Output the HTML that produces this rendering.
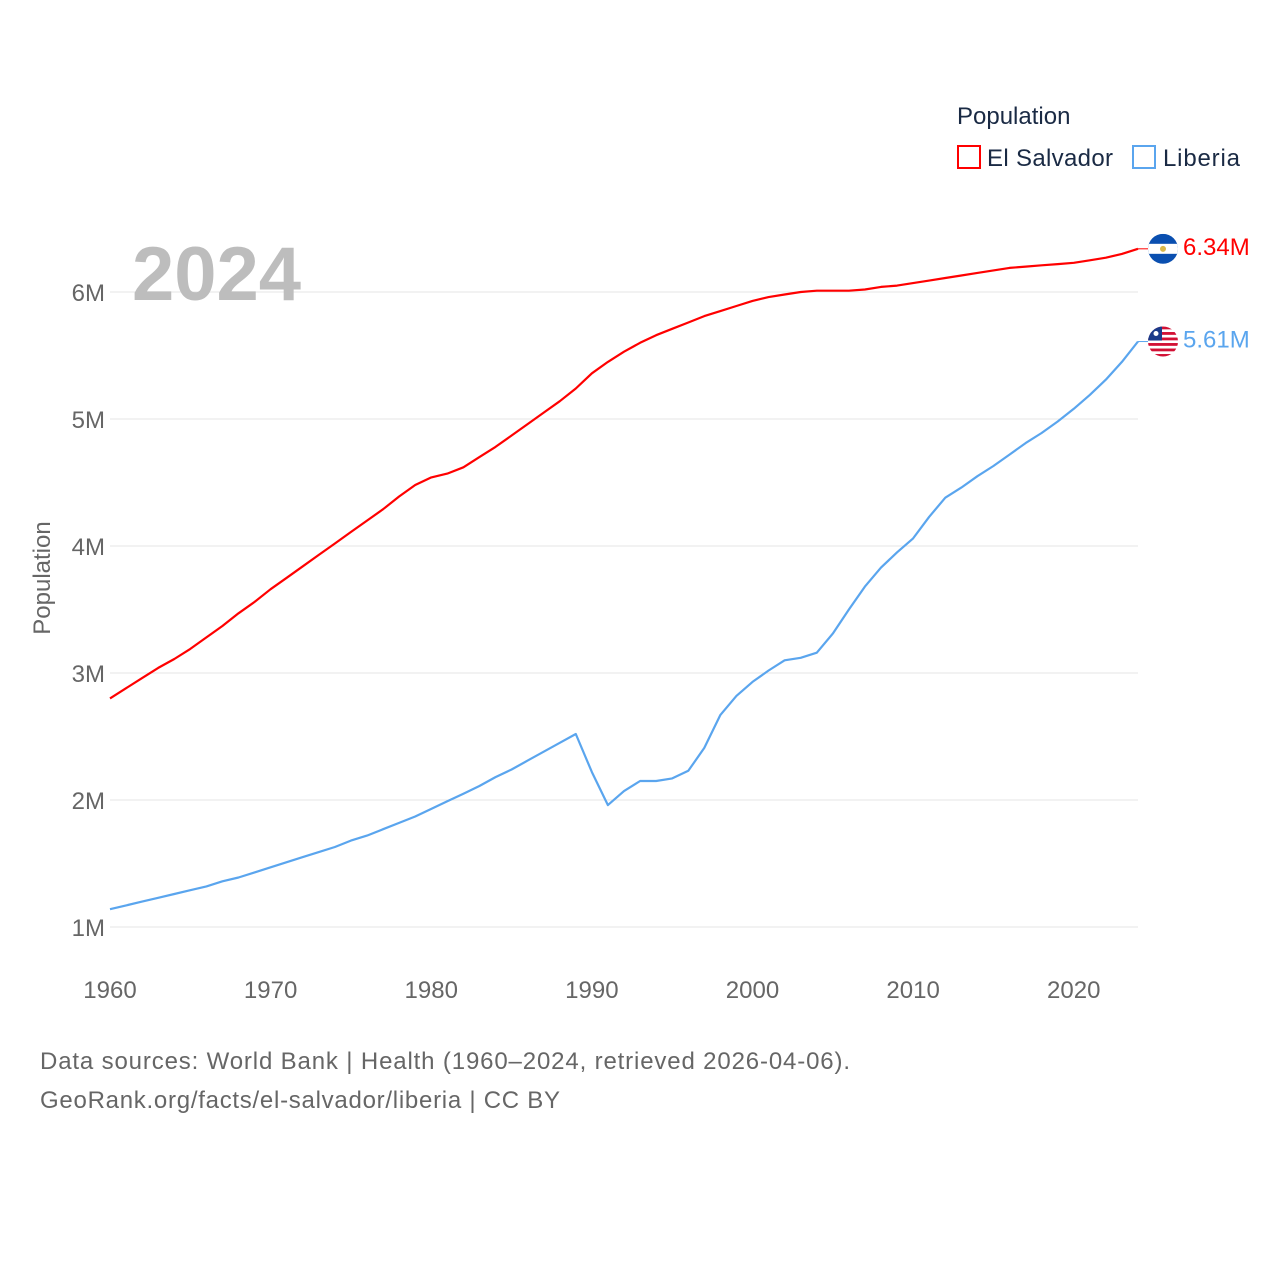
<!DOCTYPE html>
<html><head><meta charset="utf-8"><style>
body{margin:0;background:#fff;}
svg{display:block;font-family:"Liberation Sans",sans-serif;}
</style></head><body>
<svg width="1280" height="1280" viewBox="0 0 1280 1280">
<defs>
<clipPath id="c1"><circle id="c1c" cx="1163" cy="0" r="15"/></clipPath>
<clipPath id="c2"><circle id="c2c" cx="1163" cy="0" r="15"/></clipPath>
</defs>
<g id="grid"></g>
<g id="yt"></g>
<g id="xt"></g>
<text x="132" y="300" font-size="76" font-weight="bold" fill="#bdbdbd">2024</text>
<text x="50" y="578" font-size="24" fill="#666" transform="rotate(-90 50 578)" text-anchor="middle">Population</text>
<g id="lines"></g>
<g>
<text x="957" y="124" font-size="24" fill="#1a2a44">Population</text>
<rect x="958" y="146" width="22" height="22" fill="none" stroke="#ff0000" stroke-width="2"/>
<text x="987" y="166" font-size="24" fill="#1a2a44" textLength="126">El Salvador</text>
<rect x="1133" y="146" width="22" height="22" fill="none" stroke="#5aa5ee" stroke-width="2"/>
<text x="1163" y="166" font-size="24" fill="#1a2a44" textLength="77">Liberia</text>
</g>
<g id="ends"></g>
<text x="40" y="1069" font-size="24" fill="#666" textLength="810">Data sources: World Bank | Health (1960–2024, retrieved 2026-04-06).</text>
<text x="40" y="1108" font-size="24" fill="#666" textLength="520">GeoRank.org/facts/el-salvador/liberia | CC BY</text>
</svg>
<script>
const startYear = 1960;
const elSalvador = [2.80,2.88,2.96,3.04,3.11,3.19,3.28,3.37,3.47,3.56,
3.66,3.75,3.84,3.93,4.02,4.11,4.20,4.29,4.39,4.48,
4.54,4.57,4.62,4.70,4.78,4.87,4.96,5.05,5.14,5.24,
5.36,5.45,5.53,5.60,5.66,5.71,5.76,5.81,5.85,5.89,
5.93,5.96,5.98,6.00,6.01,6.01,6.01,6.02,6.04,6.05,
6.07,6.09,6.11,6.13,6.15,6.17,6.19,6.20,6.21,6.22,
6.23,6.25,6.27,6.30,6.34];
const liberia = [1.14,1.17,1.20,1.23,1.26,1.29,1.32,1.36,1.39,1.43,
1.47,1.51,1.55,1.59,1.63,1.68,1.72,1.77,1.82,1.87,
1.93,1.99,2.05,2.11,2.18,2.24,2.31,2.38,2.45,2.52,
2.22,1.96,2.07,2.15,2.15,2.17,2.23,2.41,2.67,2.82,
2.93,3.02,3.10,3.12,3.16,3.31,3.50,3.68,3.83,3.95,
4.06,4.23,4.38,4.46,4.55,4.63,4.72,4.81,4.89,4.98,
5.08,5.19,5.31,5.45,5.61];
const yTicks = [1,2,3,4,5,6];
const xTicks = [1960,1970,1980,1990,2000,2010,2020];
const NS="http://www.w3.org/2000/svg";
const xS = y => 110 + (y-1960)*(1028/64);
const yS = v => 927 - (v-1)*127;
function mk(t,a,p){const e=document.createElementNS(NS,t);for(const k in a)e.setAttribute(k,a[k]);p.appendChild(e);return e;}
const grid=document.getElementById('grid'),yt=document.getElementById('yt'),xt=document.getElementById('xt');
yTicks.forEach(v=>{
 const l=mk('line',{x1:110,x2:1138,y1:yS(v),y2:yS(v),stroke:'#e6e6e6','stroke-width':1},grid);
 
 
 const t=mk('text',{x:105,y:yS(v)+9,'text-anchor':'end','font-size':24,fill:'#666'},yt);
 t.textContent=v+'M';
 
 
});
xTicks.forEach(y=>{
 const t=mk('text',{x:xS(y),y:998,'text-anchor':'middle','font-size':24,fill:'#666'},xt);
 t.textContent=y;
 
 
});
const lines=document.getElementById('lines'),ends=document.getElementById('ends');
function series(arr,color,name,label){
 const d=arr.map((v,i)=>(i?'L':'M')+xS(startYear+i).toFixed(1)+','+yS(v).toFixed(1)).join(' ');
 const p=mk('path',{d:d,fill:'none',stroke:color,'stroke-width':2.2,'stroke-linejoin':'round'},lines);
 
 
 const ly=yS(arr[arr.length-1]);
 mk('line',{x1:1138,x2:1148,y1:ly,y2:ly,stroke:color,'stroke-width':1},ends);
 const t=mk('text',{x:1183,y:ly+6,'font-size':24,fill:color},ends);
 t.textContent=label;
 
 
 return ly;
}
const y1=series(elSalvador,'#ff0000','el-salvador',elSalvador[elSalvador.length-1].toFixed(2)+'M');
const y2=series(liberia,'#5aa5ee','liberia',liberia[liberia.length-1].toFixed(2)+'M');
document.getElementById('c1c').setAttribute('cy',y1);
document.getElementById('c2c').setAttribute('cy',y2);
const f1=mk('g',{'clip-path':'url(#c1)'},ends);


mk('rect',{x:1148,y:y1-15,width:30,height:30,fill:'#0a4fb0'},f1);
mk('rect',{x:1148,y:y1-5,width:30,height:10,fill:'#fff'},f1);
mk('circle',{cx:1163,cy:y1,r:3,fill:'#d9b84a'},f1);
const f2=mk('g',{'clip-path':'url(#c2)'},ends);


mk('rect',{x:1148,y:y2-15,width:30,height:30,fill:'#fff'},f2);
for(let i=0;i<6;i++){mk('rect',{x:1148,y:y2-15+i*5.5,width:30,height:2.8,fill:'#d21034'},f2);}
mk('rect',{x:1148,y:y2-15,width:14,height:14,fill:'#1a3a8a'},f2);
mk('circle',{cx:1156,cy:y2-8,r:2.5,fill:'#fff'},f2);
</script>
</body></html>
